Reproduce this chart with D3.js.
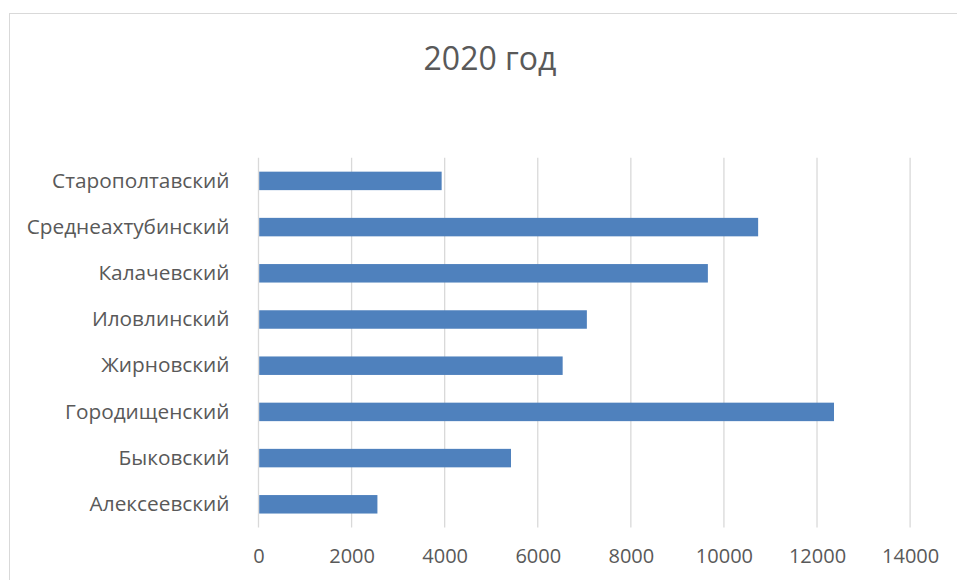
<!DOCTYPE html>
<html>
    <head>
        <meta charset="utf-8">
        <style>
          body { margin: 0; background: #fff; }
          text { font-family: "Open Sans", "Noto Sans", sans-serif; fill: #595959; }
        </style>
    </head>
    <body>
        <svg width="957" height="580"></svg>
        <script src="https://d3js.org/d3.v7.min.js"></script>
        <script>
          // районы, снизу вверх как в Excel
          var districts = ["Алексеевский", "Быковский", "Городищенский", "Жирновский",
                           "Иловлинский", "Калачевский", "Среднеахтубинский", "Старополтавский"];
          var values2020 = [2540, 5410, 12350, 6520, 7040, 9640, 10720, 3920];
          var xTicks = [0, 2000, 4000, 6000, 8000, 10000, 12000, 14000];
          var title = "2020 год";

          var data = districts.map(function(d, i) { return {name: d, value: values2020[i]}; });

          var svg = d3.select("svg");
          var margin = {top: 157.8, left: 258.5};
          var width = 651.6;
          var height = 369.6;

          // рамка диаграммы
          svg.append("rect")
              .attr("x", 9.5).attr("y", 13.5)
              .attr("width", 960).attr("height", 580)
              .attr("fill", "none")
              .attr("stroke", "#d9d9d9")
              .attr("stroke-width", 1);

          svg.append("text")
              .attr("x", 490).attr("y", 70)
              .attr("text-anchor", "middle")
              .style("font-size", "32px")
              .text(title);

          var plot = svg.append("g")
              .attr("transform", "translate(" + margin.left + "," + margin.top + ")");

          var x = d3.scaleLinear()
              .domain([0, 14000])
              .range([0, width]);

          var y = d3.scaleBand()
              .domain(districts.slice().reverse())
              .range([0, height])
              .paddingInner(0.6)
              .paddingOuter(0.3);

          // сетка
          plot.selectAll(".grid")
              .data(xTicks)
              .enter().append("line")
              .attr("class", "grid")
              .attr("x1", function(d) { return x(d); })
              .attr("x2", function(d) { return x(d); })
              .attr("y1", 0)
              .attr("y2", height)
              .attr("stroke", "#d9d9d9")
              .attr("stroke-width", 1.3);

          plot.selectAll(".bar")
              .data(data)
              .enter().append("rect")
              .attr("class", "bar")
              .attr("x", x(0) + 0.7)
              .attr("y", function(d) { return y(d.name); })
              .attr("width", function(d) { return x(d.value) - x(0); })
              .attr("height", y.bandwidth())
              .attr("fill", "#4f81bd");

          // ось X
          var xAxis = d3.axisBottom(x).tickValues(xTicks).tickSize(0).tickPadding(0).tickFormat(d3.format("d"));
          var gx = plot.append("g")
              .attr("transform", "translate(0," + height + ")")
              .call(xAxis);
          gx.select(".domain").remove();
          gx.selectAll("text")
              .attr("y", 36)
              .attr("dy", 0)
              .style("font-size", "20px")
              .attr("fill", "#595959");

          // ось Y
          var yAxis = d3.axisLeft(y).tickSize(0).tickPadding(29);
          var gy = plot.append("g").call(yAxis);
          gy.select(".domain").remove();
          gy.selectAll("text")
              .attr("dy", "0.32em")
              .style("font-size", "20.8px")
              .attr("fill", "#595959");
          svg.selectAll(".tick text").attr("font-family", null);
        </script>
    </body>
</html>
